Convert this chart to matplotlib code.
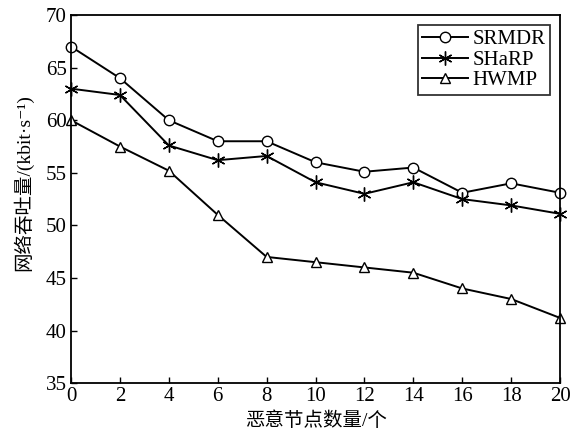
import numpy as np
import matplotlib.pyplot as plt

plt.rcParams['font.family'] = ['Liberation Serif', 'Noto Sans CJK SC', 'DejaVu Serif']

nodes = [0, 2, 4, 6, 8, 10, 12, 14, 16, 18, 20]
srmdr = [67.0, 64.0, 60.0, 58.0, 58.0, 56.0, 55.1, 55.5, 53.1, 54.0, 53.1]
sharp = [63.0, 62.4, 57.6, 56.2, 56.6, 54.1, 53.0, 54.1, 52.5, 51.9, 51.1]
hwmp = [60.0, 57.5, 55.2, 51.0, 47.0, 46.5, 46.0, 45.5, 44.0, 43.0, 41.2]

fig = plt.figure(figsize=(5.75, 4.3), dpi=100)
ax = fig.add_axes([0.1235, 0.109, 0.8505, 0.856])

asterisk = (6, 2, 0)
ax.plot(nodes, srmdr, color='black', lw=1.4, marker='o', ms=7.5, mfc='white', mec='black', mew=1.0, label='SRMDR', clip_on=False)
ax.plot(nodes, sharp, color='black', lw=1.4, marker=asterisk, ms=10, mec='black', mew=1.0, label='SHaRP', clip_on=False)
ax.plot(nodes, hwmp, color='black', lw=1.4, marker='^', ms=7.5, mfc='white', mec='black', mew=1.0, label='HWMP', clip_on=False)

ax.set_xlim(0, 20)
ax.set_ylim(35, 70)
ax.set_xticks(nodes)
ax.set_yticks(np.arange(35, 71, 5))
ax.tick_params(direction='in', length=4, width=1.0, labelsize=15, top=False, right=False, pad=3)
for s in ax.spines.values():
    s.set_linewidth(1.3)

ax.set_xlabel('恶意节点数量/个', fontsize=14, labelpad=4)
ax.set_ylabel('网络吞吐量/(kbit·s⁻¹)', fontsize=14)
ax.yaxis.set_label_coords(-0.078, 0.545)

leg = ax.legend(loc='upper right', fontsize=15, frameon=True, fancybox=False, edgecolor='black',
                handlelength=2.2, handletextpad=0.2, borderpad=0.2, labelspacing=0.05,
                borderaxespad=0.5)
leg.get_frame().set_linewidth(1.3)

fig.savefig('out.png', dpi=100)
